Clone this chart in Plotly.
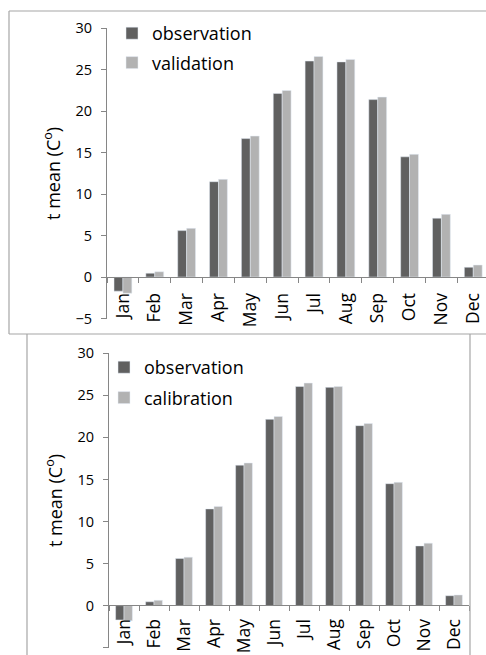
import plotly.graph_objects as go

months = ["Jan", "Feb", "Mar", "Apr", "May", "Jun", "Jul", "Aug", "Sep", "Oct", "Nov", "Dec"]
observation = [-1.7, 0.46, 5.6, 11.5, 16.7, 22.15, 26.05, 25.95, 21.4, 14.5, 7.1, 1.18]
validation = [-1.95, 0.64, 5.87, 11.78, 17.0, 22.5, 26.6, 26.25, 21.7, 14.8, 7.56, 1.45]
calibration = [-1.8, 0.63, 5.76, 11.8, 16.96, 22.49, 26.46, 26.06, 21.65, 14.66, 7.43, 1.27]
y_ticks = [-5, 0, 5, 10, 15, 20, 25, 30]

W, H = 486, 655
FONT = "Open Sans"
DARK = "#606060"
LIGHT = "#b2b2b2"
AXC = "#868686"
BORDER = "#a6a6a6"


def fx(p):
    return p / W


def fy(p):
    return 1 - p / H


fig = go.Figure()
fig.add_trace(go.Bar(x=months, y=observation, name="observation", marker_color=DARK,
                     xaxis="x", yaxis="y", legend="legend", legendgroup="a"))
fig.add_trace(go.Bar(x=months, y=validation, name="validation", marker_color=LIGHT,
                     xaxis="x", yaxis="y", legend="legend", legendgroup="b"))
fig.add_trace(go.Bar(x=months, y=observation, name="observation", marker_color=DARK,
                     xaxis="x2", yaxis="y2", legend="legend2", legendgroup="c"))
fig.add_trace(go.Bar(x=months, y=calibration, name="calibration", marker_color=LIGHT,
                     xaxis="x2", yaxis="y2", legend="legend2", legendgroup="d"))

xcommon = dict(type="category", showline=True, linecolor=AXC, linewidth=1,
               ticks="outside", tickson="boundaries", ticklen=5, tickcolor=AXC,
               tickangle=-90, tickfont=dict(family=FONT, size=17.5, color="#000"),
               showgrid=False, zeroline=False, fixedrange=True, anchor="free")
ycommon = dict(range=[-5, 30], tickvals=y_ticks, showline=True, linecolor=AXC, linewidth=1,
               ticks="outside", ticklen=5, tickcolor=AXC,
               tickfont=dict(family=FONT, size=14.5, color="#000"), ticklabelstandoff=6,
               showgrid=False, zeroline=False, fixedrange=True,
               title=dict(text="t mean (C<sup>o</sup>)", font=dict(family=FONT, size=18, color="#000"),
                          standoff=10))

fig.update_layout(
    width=W, height=H, autosize=False,
    margin=dict(l=0, r=0, t=0, b=0, autoexpand=False),
    paper_bgcolor="white", plot_bgcolor="rgba(0,0,0,0)",
    barmode="group", bargap=0.44, bargroupgap=0,
    xaxis=dict(xcommon, domain=[fx(107), 1.0], range=[-0.5, 11.4], position=fy(277),
               ticklabelstandoff=8),
    yaxis=dict(ycommon, domain=[fy(318.5), fy(28.3)], anchor="x"),
    xaxis2=dict(xcommon, domain=[fx(109), fx(469)], range=[-0.5, 11.5], position=fy(605),
                ticklabelstandoff=6),
    yaxis2=dict(ycommon, domain=[fy(647.7), fy(353.3)], anchor="x2"),
    legend=dict(x=fx(112), y=fy(15), xanchor="left", yanchor="top", bgcolor="rgba(0,0,0,0)",
                font=dict(family=FONT, size=18, color="#000"), traceorder="grouped",
                tracegroupgap=3),
    legend2=dict(x=fx(104), y=fy(349), xanchor="left", yanchor="top", bgcolor="rgba(0,0,0,0)",
                 font=dict(family=FONT, size=18, color="#000"), traceorder="grouped",
                 tracegroupgap=4),
    shapes=[
        dict(type="line", xref="paper", yref="paper", x0=fx(9), x1=1.0, y0=fy(11), y1=fy(11),
             line=dict(color=BORDER, width=1.2)),
        dict(type="line", xref="paper", yref="paper", x0=fx(9), x1=fx(9), y0=fy(11), y1=fy(334),
             line=dict(color=BORDER, width=1.2)),
        dict(type="line", xref="paper", yref="paper", x0=fx(9), x1=1.0, y0=fy(334), y1=fy(334),
             line=dict(color=BORDER, width=1.2)),
        dict(type="line", xref="paper", yref="paper", x0=fx(27), x1=fx(27), y0=fy(334), y1=0,
             line=dict(color=BORDER, width=1.2)),
        dict(type="line", xref="paper", yref="paper", x0=fx(470), x1=fx(470), y0=fy(334), y1=0,
             line=dict(color=BORDER, width=1.2)),
    ],
)

fig.write_html("out.html")
